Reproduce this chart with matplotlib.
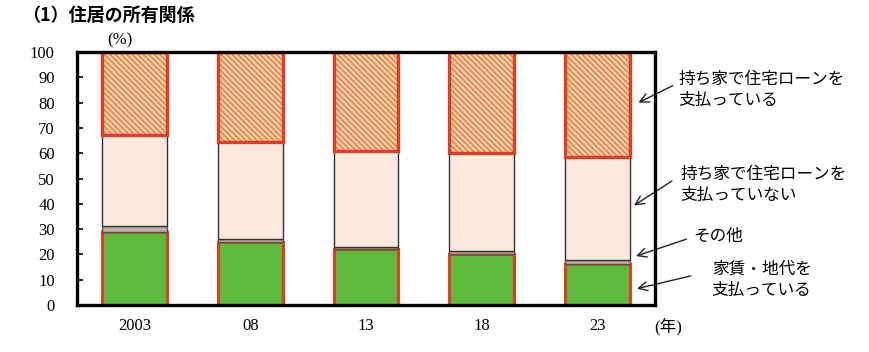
import numpy as np
import matplotlib
matplotlib.use('Agg')
import matplotlib.pyplot as plt

# data (%)
years = ['2003', '08', '13', '18', '23']
rent = [28.8, 25.0, 22.1, 20.0, 16.2]        # 家賃・地代を支払っている
other = [2.4, 1.0, 0.9, 1.5, 1.6]            # その他
no_loan = [36.0, 38.5, 37.9, 38.7, 40.6]     # 持ち家で住宅ローンを支払っていない
loan = [32.8, 35.5, 39.1, 39.8, 41.6]        # 持ち家で住宅ローンを支払っている
yticks = np.arange(0, 101, 10)

jp = ['Liberation Serif', 'Noto Sans CJK JP']
plt.rcParams['font.family'] = jp
plt.rcParams['hatch.linewidth'] = 1.0

fig = plt.figure(figsize=(8.7, 3.52), dpi=100)
ax = fig.add_axes([0.0885, 0.1335, 0.6645, 0.7185])

x = np.arange(len(years))
w = 0.56
red = '#e23c22'

b1 = np.array(rent)
b2 = b1 + np.array(other)
b3 = b2 + np.array(no_loan)

ax.bar(x, rent, w, color='#5dba3b', edgecolor=red, linewidth=2.2, zorder=2)
ax.bar(x, other, w, bottom=b1, color='#b9b1ab', edgecolor='#555555',
       linewidth=1.0, zorder=2)
ax.bar(x, no_loan, w, bottom=b2, color='#fbe9dd', edgecolor='#333333',
       linewidth=1.0, zorder=2)
# hatched top segment: fill + hatch, then red outline on top
ax.bar(x, loan, w, bottom=b3, color='#f9d2aa', edgecolor='#e0783c',
       hatch='\\' * 6, linewidth=0, zorder=2)
ax.bar(x, loan, w, bottom=b3, fill=False, edgecolor=red, linewidth=2.4,
       zorder=3)

ax.set_xlim(-0.5, len(years) - 0.5)
ax.set_ylim(0, 100)
ax.set_yticks(yticks)
ax.set_xticks(x)
ax.set_xticklabels(years)
ax.tick_params(axis='y', direction='in', length=4, width=1.2, labelsize=12,
               pad=16)
ax.tick_params(axis='x', length=0, labelsize=12, pad=9)
for s in ax.spines.values():
    s.set_linewidth(2.4)
    s.set_zorder(4)

fig.text(0.025, 0.955, '（1）住居の所有関係', fontsize=13, fontweight='bold',
         family=['Noto Sans CJK JP'], va='center')
fig.text(0.138, 0.885, '(%)', fontsize=12, ha='center', va='center')
fig.text(0.768, 0.072, '(年)', fontsize=12, ha='center', va='center')

labels = [
    ('持ち家で住宅ローンを\n支払っている', (0.780, 0.745), (0.731, 0.705), (0.776, 0.760)),
    ('持ち家で住宅ローンを\n支払っていない', (0.782, 0.475), (0.726, 0.412), (0.775, 0.490)),
    ('その他', (0.797, 0.330), (0.728, 0.270), (0.792, 0.323)),
    ('家賃・地代を\n支払っている', (0.818, 0.205), (0.729, 0.178), (0.797, 0.218)),
]
for txt, tpos, head, tail in labels:
    fig.text(tpos[0], tpos[1], txt, fontsize=12, family=['Noto Sans CJK JP'],
             va='center', ha='left', linespacing=1.3)
    ax.annotate('', xy=head, xycoords='figure fraction', xytext=tail,
                textcoords='figure fraction', annotation_clip=False,
                arrowprops=dict(arrowstyle='->', color='#222222', lw=1.0,
                                mutation_scale=16))

fig.savefig('out.png', dpi=100)
